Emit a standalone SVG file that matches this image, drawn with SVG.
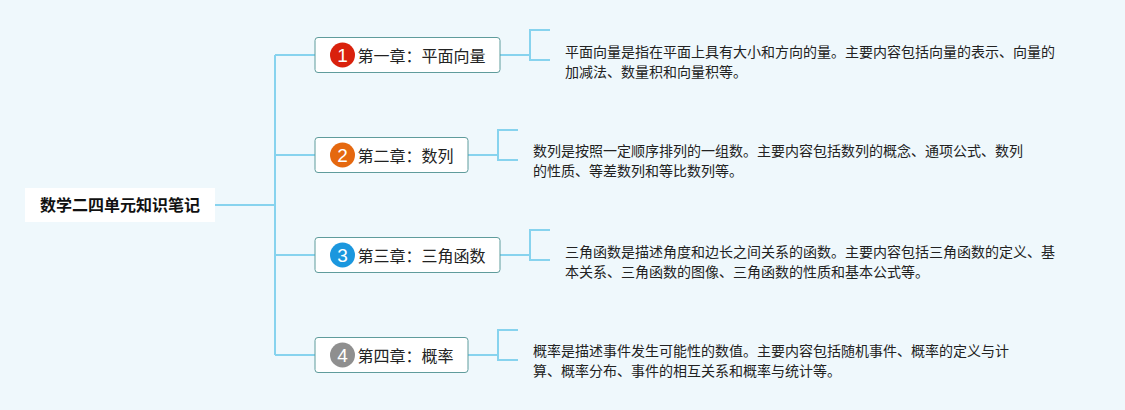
<svg xmlns="http://www.w3.org/2000/svg" width="1125" height="410" viewBox="0 0 1125 410">
<style>
text{font-family:"Noto Sans CJK SC","Noto Sans",sans-serif;fill:#222}
.c{fill:none;stroke:#87d3ee;stroke-width:2}
.n{fill:#fff;stroke:#5f9c9c;stroke-width:1}
.t{font-size:16px}
.d{font-size:14px}
.b{fill:#fff;text-anchor:middle;font-family:"Liberation Sans",sans-serif;font-size:19px}
</style>
<rect width="1125" height="410" fill="#eff8fc"/>
<g id="connectors">
<path class="c" d="M215 205H275M275 55V355M275 55H315M275 155H315M275 255H315M275 355H315"/>
<path class="c" d="M500 55H530M550 30H530V60H550"/>
<path class="c" d="M468 155H498M518 130H498V160H518"/>
<path class="c" d="M500 255H530M550 230H530V260H550"/>
<path class="c" d="M468 355H498M518 330H498V360H518"/>
</g>
<g id="root"><rect x="25" y="188" width="190" height="34" fill="#fff"/><text x="40" y="211" font-size="16" font-weight="700" style="fill:#111">数学二四单元知识笔记</text></g>
<g id="ch1"><rect class="n" x="315" y="37.5" width="185" height="35" rx="3"/><circle cx="342.5" cy="55" r="12.5" fill="#d9210c"/><text class="b" x="342.5" y="61.5">1</text><text class="t" x="357.5" y="62">第一章：平面向量</text></g>
<g id="ch2"><rect class="n" x="315" y="137.5" width="153" height="35" rx="3"/><circle cx="342.5" cy="155" r="12.5" fill="#e5680f"/><text class="b" x="342.5" y="161.5">2</text><text class="t" x="357.5" y="162">第二章：数列</text></g>
<g id="ch3"><rect class="n" x="315" y="237.5" width="185" height="35" rx="3"/><circle cx="342.5" cy="255" r="12.5" fill="#1b97de"/><text class="b" x="342.5" y="261.5">3</text><text class="t" x="357.5" y="262">第三章：三角函数</text></g>
<g id="ch4"><rect class="n" x="315" y="337.5" width="153" height="35" rx="3"/><circle cx="342.5" cy="355" r="12.5" fill="#8f8f8f"/><text class="b" x="342.5" y="361.5">4</text><text class="t" x="357.5" y="362">第四章：概率</text></g>
<g id="d1"><text class="d" x="565" y="56.5">平面向量是指在平面上具有大小和方向的量。主要内容包括向量的表示、向量的</text><text class="d" x="565" y="76.5">加减法、数量积和向量积等。</text></g>
<g id="d2"><text class="d" x="533" y="156">数列是按照一定顺序排列的一组数。主要内容包括数列的概念、通项公式、数列</text><text class="d" x="533" y="176">的性质、等差数列和等比数列等。</text></g>
<g id="d3"><text class="d" x="565" y="256.5">三角函数是描述角度和边长之间关系的函数。主要内容包括三角函数的定义、基</text><text class="d" x="565" y="276.5">本关系、三角函数的图像、三角函数的性质和基本公式等。</text></g>
<g id="d4"><text class="d" x="533" y="356">概率是描述事件发生可能性的数值。主要内容包括随机事件、概率的定义与计</text><text class="d" x="533" y="376">算、概率分布、事件的相互关系和概率与统计等。</text></g>
</svg>
